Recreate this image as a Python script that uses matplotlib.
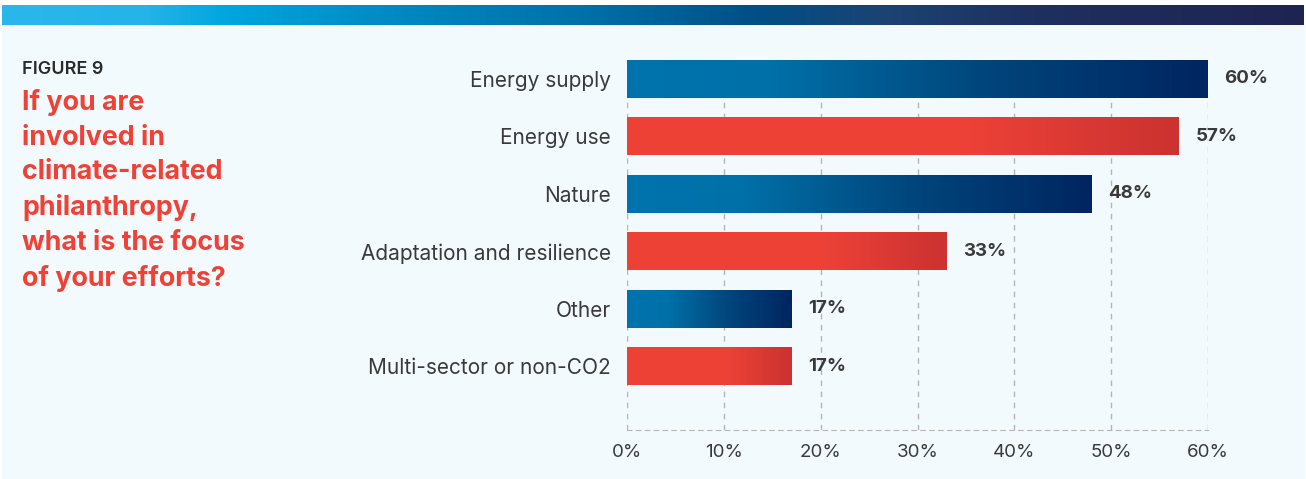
import numpy as np
import matplotlib.pyplot as plt
from matplotlib.colors import LinearSegmentedColormap

categories = ["Energy supply", "Energy use", "Nature", "Adaptation and resilience",
              "Other", "Multi-sector or non-CO2"]
values = [60, 57, 48, 33, 17, 17]
bar_kind = ["blue", "red", "blue", "red", "blue", "red"]
ticks = [0, 10, 20, 30, 40, 50, 60]
tick_labels = ["0%", "10%", "20%", "30%", "40%", "50%", "60%"]

BG = "#F2FAFD"
RED = "#EF4136"
TEXT = "#3a3a3a"

blue_cmap = LinearSegmentedColormap.from_list(
    "bl", [(0, "#0074AD"), (0.25, "#0070A8"), (0.6, "#01477D"), (1, "#002560")])
red_cmap = LinearSegmentedColormap.from_list(
    "rd", [(0, "#EF4136"), (0.6, "#EE4237"), (1, "#CB3230")])
band_cmap = LinearSegmentedColormap.from_list(
    "band", [(0, "#2AB7EC"), (0.11, "#24B4E8"), (0.17, "#00A6DF"), (0.3, "#0089C2"),
             (0.45, "#0070A8"), (0.58, "#004F86"), (0.68, "#1B4372"),
             (0.8, "#1E2F5F"), (1, "#1E2452")])

plt.rcParams['font.family'] = ['Inter', 'DejaVu Sans']

fig = plt.figure(figsize=(13.06, 4.79), dpi=100)
W, H = 1306, 479

# light panel background
fig.add_artist(plt.Rectangle((2 / W, 0), 1 - 4 / W, 1 - 25 / H,
                             transform=fig.transFigure, color=BG, zorder=0))

# gradient band along the top
band = fig.add_axes([2 / W, 1 - 25 / H, 1 - 4 / W, 20 / H])
band.imshow(np.linspace(0, 1, 512).reshape(1, -1), aspect="auto", cmap=band_cmap)
band.set_axis_off()

# heading
fig.text(22 / W, 1 - 70 / H, "FIGURE 9", fontsize=13, fontweight="semibold",
         color="#2b2b2b", va="center", ha="left")
fig.text(22 / W, 1 - 89 / H,
         "If you are\ninvolved in\nclimate-related\nphilanthropy,\nwhat is the focus\nof your efforts?",
         fontsize=19.3, fontweight="bold", color=RED, va="top", ha="left",
         linespacing=1.43)

ax = fig.add_axes([627 / W, 1 - 430 / H, 581 / W, 370 / H])
ax.set_facecolor("none")

y = np.arange(len(categories))
bars = ax.barh(y, values, height=0.66, color="none", zorder=3)
for b, kind in zip(bars, bar_kind):
    x0, y0 = b.get_x(), b.get_y()
    cmap = blue_cmap if kind == "blue" else red_cmap
    ax.imshow(np.linspace(0, 1, 256).reshape(1, -1), aspect="auto", cmap=cmap,
              extent=[x0, x0 + b.get_width(), y0 + b.get_height(), y0],
              zorder=3, clip_on=False)

for yi, v in zip(y, values):
    ax.text(v + 1.7, yi, f"{v}%", va="center", ha="left", fontsize=13.5,
            fontweight="bold", color=TEXT)

ax.set_xlim(0, 60)
ax.set_ylim(6.11, -0.33)
ax.set_yticks(y)
ax.set_yticklabels(categories, fontsize=15, color=TEXT)
ax.set_xticks(ticks)
ax.set_xticklabels(tick_labels, fontsize=13.5, color=TEXT)
ax.tick_params(axis="y", length=0, pad=11.5)
ax.tick_params(axis="x", length=0, pad=10)
ax.grid(axis="x", color="#b5b5b5", linestyle=(0, (4, 4)), linewidth=1, zorder=0)
for side in ["top", "right", "left"]:
    ax.spines[side].set_visible(False)
ax.spines["bottom"].set_color("#b5b5b5")
ax.spines["bottom"].set_linestyle((0, (4, 4)))

fig.savefig("out.png", dpi=100, facecolor="white")
